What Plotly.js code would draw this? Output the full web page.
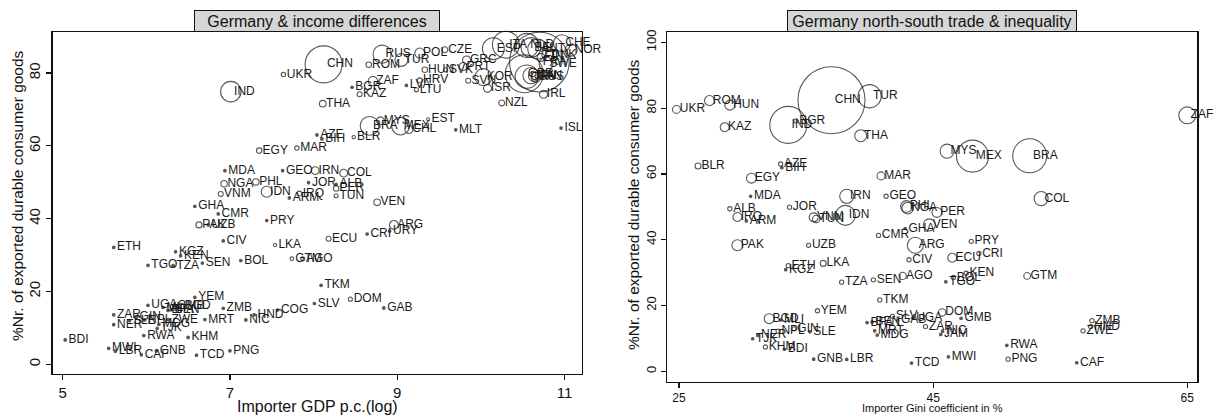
<!DOCTYPE html>
<html>
<head>
<meta charset="utf-8">
<script src="https://cdn.plot.ly/plotly-3.0.1.min.js"></script>
<style>
html,body{margin:0;padding:0;background:#fff;}
#chart{width:1217px;height:416px;}
</style>
</head>
<body>
<div id="chart"></div>
<script>
// ---- data ----
const countryCodes = [
 "CHN","IND","BRA","MEX","TUR","IDN","ZAF","ARG","MYS","IRN","COL","THA","PHL","NGA","VEN","PAK",
 "ROM","HUN","EGY","PER","BGD","KAZ","IRQ","VNM","ECU","UKR","MAR","TUN","AGO","DOM","GTM","BLR","LKA",
 "AZE","BGR","GEO","ALB","JOR","CMR","UZB","ETH","TZA","SEN","CIV","TKM","YEM","NPL","GIN","KHM","SLV",
 "ZAR","PRY","CRI","KEN","BOL","PNG","ZMB","HND","ZWE",
 "MDA","BIH","ARM","GHA","KGZ","MLI","SLE","NER","TJK","BDI","GNB","LBR","TCD","BFA","BEN","MRT","MDG",
 "GAB","UGA","GMB","NIC","TGO","RWA","MWI","CAF","JAM","COG",
 "RUS","POL","CZE","SVK","PRT","GRC","SVN","KOR","ISR","NZL","IRL","ISL","MLT","EST","CHL","LVA","HRV",
 "LTU","URY",
 "ESP","ITA","NLD","BEL","AUT","FRA","CHE","NOR","DNK","SWE","FIN","GBR","USA","JPN","CAN","AUS"
];
// importer GDP per capita (log); null = not shown in left panel
const gdpLog = [
 8.12,7.01,8.67,9.04,9.05,7.44,8.71,8.96,8.80,8.02,8.36,8.11,7.31,6.93,8.76,6.63,
 8.66,9.33,7.35,8.27,6.42,8.55,7.83,6.89,8.18,7.64,7.80,8.27,7.87,8.44,7.74,8.48,7.54,
 8.04,8.46,7.63,8.27,7.94,6.86,6.74,5.61,6.32,6.67,6.92,8.09,6.58,5.98,5.88,6.50,8.01,
 5.61,7.44,8.64,6.41,7.13,7.00,6.92,7.29,6.26,
 6.94,8.10,7.71,6.58,6.35,6.20,5.80,5.61,6.13,5.03,6.12,5.63,6.60,6.26,6.30,6.70,6.15,
 8.84,6.02,6.33,7.19,6.02,5.97,5.55,5.94,null,7.57,
 8.82,9.27,9.57,9.58,9.79,9.83,9.85,10.03,10.08,10.25,10.75,10.96,9.70,9.37,9.14,9.11,9.27,
 9.23,8.91,
 10.15,10.30,10.55,10.60,10.68,10.70,10.97,11.08,10.80,10.78,10.72,10.52,10.55,10.60,10.63,10.66
];
// importer Gini coefficient in %; null = not shown in right panel
const giniPct = [
 37.0,33.6,52.6,48.1,40.0,38.1,65.0,43.6,46.1,38.2,53.5,39.3,42.9,43.0,44.7,29.6,
 27.4,29.0,30.7,45.3,32.1,28.6,29.6,35.6,46.5,24.8,40.9,35.8,42.6,45.7,52.4,26.5,36.35,
 33.0,34.2,41.3,29.0,33.7,40.7,35.2,33.6,37.8,40.3,43.1,40.8,35.9,32.8,34.05,31.8,41.8,
 44.4,48.0,48.6,47.6,46.6,50.9,57.5,57.4,56.8,
 30.64,33.1,30.3,42.8,33.4,33.0,35.3,31.2,30.8,33.3,35.6,38.2,43.3,39.8,40.2,40.4,40.6,
 42.2,43.4,47.2,45.75,46.0,50.8,46.2,56.3,45.6,null,
 null,null,null,null,null,null,null,null,null,null,null,null,null,null,null,null,null,
 null,null,
 null,null,null,null,null,null,null,null,null,null,null,null,null,null,null,null
];
// % number of exported durable consumer goods
const durablePct = [
 82.4,74.9,65.5,65.4,83.6,47.4,77.8,38.3,66.9,53.2,52.5,71.6,50.1,49.6,44.5,38.3,
 82.3,80.9,58.7,48.3,16.0,74.2,46.9,46.8,34.5,79.6,59.4,46.3,29.0,17.9,29.0,62.4,32.8,
 63.0,76.1,53.2,49.4,49.9,41.3,38.3,32.1,27.1,27.8,33.9,21.7,18.4,12.2,12.9,7.4,16.7,
 13.6,39.5,35.8,29.8,28.5,3.7,15.4,13.6,12.3,
 53.2,61.9,45.7,43.4,30.9,15.6,12.0,10.9,9.9,6.7,3.7,3.6,2.5,14.8,15.0,12.3,11.0,
 15.5,16.2,16.1,12.2,27.2,7.9,4.4,2.6,11.2,14.9,
 85.2,85.5,86.4,80.9,81.8,83.6,77.9,78.9,75.8,71.8,74.2,64.9,64.4,67.3,64.5,76.6,78.0,
 75.4,36.6,
 86.7,87.8,87.6,87.0,86.6,83.0,88.2,86.3,85.0,82.5,84.3,79.8,79.0,79.3,79.1,78.9
];
// relative trade weight (drives marker area)
const tradeWeight = [
 10,3.05,2.57,2.28,1.2,0.89,0.64,0.57,0.44,0.44,0.44,0.32,0.3,0.3,0.32,0.27,
 0.22,0.22,0.22,0.22,0.22,0.18,0.18,0.18,0.18,0.14,0.14,0.12,0.12,0.12,0.1,0.08,0.08,
 0.04,0.04,0.04,0.04,0.04,0.04,0.04,0.04,0.04,0.04,0.04,0.04,0.04,0.04,0.04,0.04,0.04,
 0.04,0.04,0.04,0.04,0.04,0.04,0.04,0.04,0.04,
 0.008,0.008,0.008,0.008,0.008,0.008,0.008,0.008,0.008,0.008,0.008,0.008,0.008,0.008,0.008,0.008,0.008,
 0.008,0.008,0.008,0.008,0.008,0.008,0.008,0.008,0.008,0.008,
 2.4,0.73,0.26,0.12,0.47,0.47,0.18,2.1,0.47,0.26,0.47,0.008,0.008,0.066,0.47,0.008,0.18,
 0.12,0.008,
 3.5,5.3,4.2,2.9,2.9,26,2.1,1.05,1.0,1.4,0.47,10.5,4.0,1.9,0.73,0.7
];

// ---- build panels ----
function pick(xs){
  const idx = countryCodes.map((c,i)=>i).filter(i => xs[i] !== null);
  return {
    x: idx.map(i=>xs[i]),
    y: idx.map(i=>durablePct[i]),
    w: idx.map(i=>tradeWeight[i]),
    t: idx.map(i=>'\u00a0'+countryCodes[i])
  };
}
const L = pick(gdpLog);
const R = pick(giniPct);
const kL = 11.7, kR = 21.2;
const rawSize = (w,k) => k*Math.sqrt(w);
const mSize = (w,k) => Math.max(2.6, rawSize(w,k));
const mSym = (w,k) => rawSize(w,k) < 2.6 ? 'circle' : 'circle-open';

const lineCol = '#111';
const labelFont = {family:'Arial, "Liberation Sans", sans-serif', size:12, color:'#1a1a1a'};

function markerTrace(P, k, xa, ya){
  return {x:P.x, y:P.y, xaxis:xa, yaxis:ya, type:'scatter', mode:'markers', hoverinfo:'skip', cliponaxis:false,
    marker:{symbol:P.w.map(w=>mSym(w,k)), size:P.w.map(w=>mSize(w,k)), color:lineCol,
            line:{width:1.1, color:lineCol}}};
}
function textTrace(P, xa, ya){
  return {x:P.x, y:P.y, xaxis:xa, yaxis:ya, type:'scatter', mode:'text', text:P.t, textposition:'middle right',
    textfont:labelFont, hoverinfo:'skip', cliponaxis:false};
}
const traces = [
  markerTrace(L, kL, 'x', 'y'), textTrace(L, 'x', 'y'),
  markerTrace(R, kR, 'x2', 'y2'), textTrace(R, 'x2', 'y2')
];

const W = 1217, H = 416;
const font = 'Arial, "Liberation Sans", sans-serif';
const axBase = {showgrid:false, zeroline:false, showline:true, mirror:true, linecolor:'#111', linewidth:1.2,
  ticks:'outside', ticklen:5, tickwidth:1.2, tickcolor:'#111', fixedrange:true};

const layout = {
  width:W, height:H, margin:{l:0,r:0,t:0,b:0}, paper_bgcolor:'#fff', plot_bgcolor:'#fff',
  showlegend:false, font:{family:font, color:'#111'},
  xaxis: Object.assign({}, axBase, {domain:[52.5/W, 582/W], range:[4.878, 11.21], tickvals:[5,7,9,11],
     tickfont:{family:font, size:15, color:'#111'}, anchor:'y'}),
  yaxis: Object.assign({}, axBase, {domain:[1-374/H, 1-32.3/H], range:[-2.66, 91.2], tickvals:[0,20,40,60,80],
     tickangle:-90, tickfont:{family:font, size:15, color:'#111'}, anchor:'x'}),
  xaxis2: Object.assign({}, axBase, {domain:[667.3/W, 1197.3/W], range:[24.08, 65.79], tickvals:[25,45,65],
     tickfont:{family:font, size:12, color:'#111'}, anchor:'y2'}),
  yaxis2: Object.assign({}, axBase, {domain:[1-381.7/H, 1-32.3/H], range:[-3.16, 103.04], tickvals:[0,20,40,60,80,100],
     tickangle:-90, tickfont:{family:font, size:13, color:'#111'}, anchor:'x2'}),
  annotations: [
    {text:'Germany &amp; income differences', xref:'paper', yref:'paper', x:317/W, y:1-32.3/H,
     xanchor:'center', yanchor:'bottom', showarrow:false, bgcolor:'#d6d6d6', bordercolor:'#111',
     borderwidth:1, borderpad:0, width:244, height:20, font:{family:font, size:16, color:'#111'}},
    {text:'Germany north-south trade &amp; inequality', xref:'paper', yref:'paper', x:932.3/W, y:1-32.3/H,
     xanchor:'center', yanchor:'bottom', showarrow:false, bgcolor:'#d6d6d6', bordercolor:'#111',
     borderwidth:1, borderpad:0, width:288, height:20, font:{family:font, size:16, color:'#111'}},
    {text:'Importer GDP p.c.(log)', xref:'paper', yref:'paper', x:317/W, y:1-406/H,
     xanchor:'center', yanchor:'middle', showarrow:false, font:{family:font, size:16, color:'#111'}},
    {text:'%Nr. of exported durable consumer goods', xref:'paper', yref:'paper', x:17/W, y:1-196/H,
     xanchor:'center', yanchor:'middle', textangle:-90, showarrow:false, font:{family:font, size:15.5, color:'#111'}},
    {text:'Importer Gini coefficient in %', xref:'paper', yref:'paper', x:932.3/W, y:1-408/H,
     xanchor:'center', yanchor:'middle', showarrow:false, font:{family:font, size:11, color:'#111'}},
    {text:'%Nr. of exported durable consumer goods', xref:'paper', yref:'paper', x:633/W, y:1-205/H,
     xanchor:'center', yanchor:'middle', textangle:-90, showarrow:false, font:{family:font, size:15.5, color:'#111'}}
  ]
};

Plotly.newPlot('chart', traces, layout, {displayModeBar:false, staticPlot:true});
</script>
</body>
</html>
